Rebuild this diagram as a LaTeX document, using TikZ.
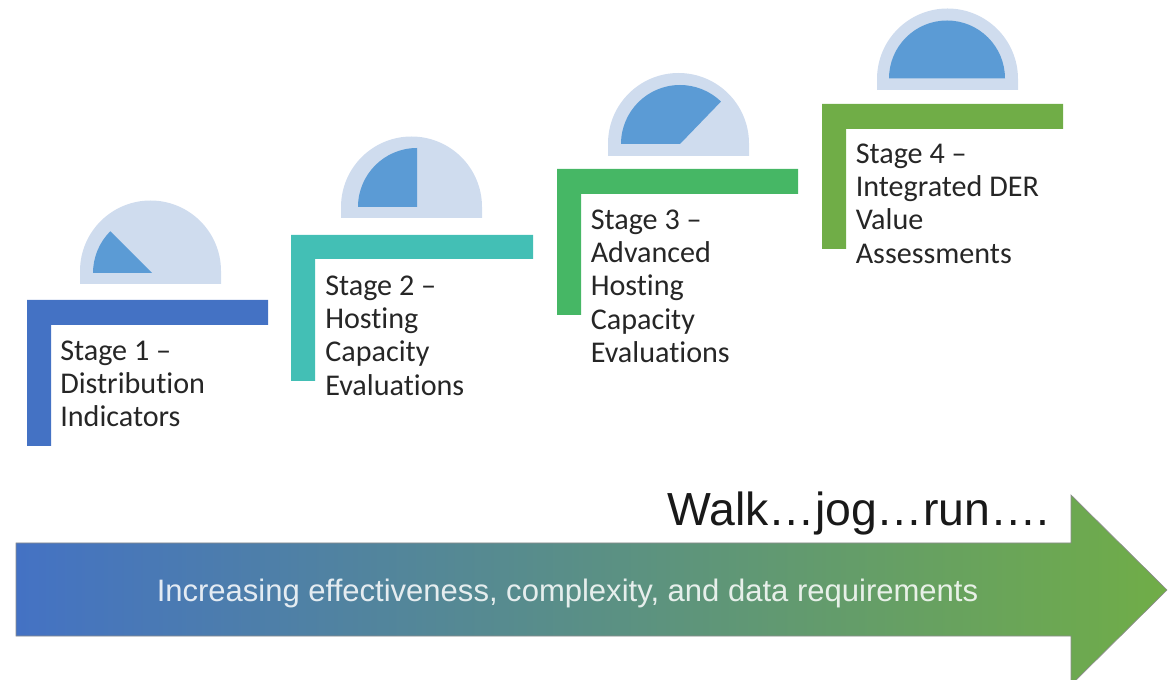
\documentclass[tikz,border=0pt]{standalone}
\usepackage{fontspec}
\setmainfont[Ligatures=NoCommon]{Carlito}
\newfontfamily\arialfont{Liberation Sans}
\definecolor{barA}{HTML}{4472C4}
\definecolor{barB}{HTML}{43BFB5}
\definecolor{barC}{HTML}{46B765}
\definecolor{barD}{HTML}{70AD47}
\definecolor{domeout}{HTML}{CFDCEE}
\definecolor{domein}{HTML}{5B9BD5}
\definecolor{inktext}{HTML}{262626}
\tikzset{
  stagetext/.style={anchor=north west,inner sep=0pt,align=left,text=inktext,
    font=\fontsize{22.6pt}{24.8pt}\selectfont},
  domeshape/.style={fill=domeout,draw=none},
  fillshape/.style={fill=domein,draw=none},
}
\newcommand{\stagebar}[6]{% x0,y0,x1,y1,vertical bottom,colour
  \fill[#6] (#1,#2) -- (#3,#2) -- (#3,#4) -- (#1+24,#4) -- (#1+24,#5) -- (#1,#5) -- cycle;}
\newcommand{\domeat}[3]{% cx, cy, bottom
  \fill[domeshape] (#1-70.5,#3) -- (#1-70.5,#2) arc[start angle=180,end angle=360,radius=70.5] -- (#1+70.5,#3) -- cycle;}
\begin{document}
\begin{tikzpicture}[x=0.75pt,y=-0.75pt]
\useasboundingbox (0,0) rectangle (1171,680);
\clip (0,0) rectangle (1171,680);
% domes
\domeat{150.5}{271}{284}
\domeat{411.5}{207}{218}
\domeat{678.5}{143.5}{156}
\domeat{947.5}{79}{90}
% dial fills
\fill[fillshape] (152,273) -- (93,273) arc[start angle=180,end angle=225,radius=59] -- cycle;
\fill[fillshape] (417,207) -- (358,207) arc[start angle=180,end angle=270,radius=59] -- cycle;
\fill[fillshape] (680,144) -- (621,144) arc[start angle=180,end angle=314,radius=59] -- cycle;
\fill[fillshape] (947,78.5) -- (889,78.5) arc[start angle=180,end angle=360,radius=58] -- cycle;
% bars
\stagebar{27}{300}{268}{325}{446}{barA}
\stagebar{291}{235}{533}{259}{381}{barB}
\stagebar{557}{169}{798}{194}{315}{barC}
\stagebar{822}{104}{1063}{129}{249}{barD}
% labels
\node[stagetext] (s1) at (60,341) {Stage 1 –\\Distribution\\Indicators};
\node[stagetext] (s2) at (325,276) {Stage 2 –\\Hosting\\Capacity\\Evaluations};
\node[stagetext] (s3) at (590.5,210) {Stage 3 –\\Advanced\\Hosting\\Capacity\\Evaluations};
\node[stagetext] (s4) at (855.5,144) {Stage 4 –\\Integrated DER\\Value\\Assessments};
% arrow
\shade[left color=barA,right color=barD,draw=black!45,line width=0.5pt]
  (16,543) -- (1071,543) -- (1071,495) -- (1167,590) -- (1071,685) -- (1071,636) -- (16,636) -- cycle;
\node[anchor=base east,inner sep=0pt,text=black!90,font=\arialfont\fontsize{34.8pt}{40pt}\selectfont] (walk) at (1050,526) {Walk…jog…run….};
\node[anchor=base,inner sep=0pt,text=white,opacity=0.85,font=\arialfont\fontsize{23.27pt}{26pt}\selectfont] (inc) at (567.5,601) {Increasing effectiveness, complexity, and data requirements};
\end{tikzpicture}
\end{document}
